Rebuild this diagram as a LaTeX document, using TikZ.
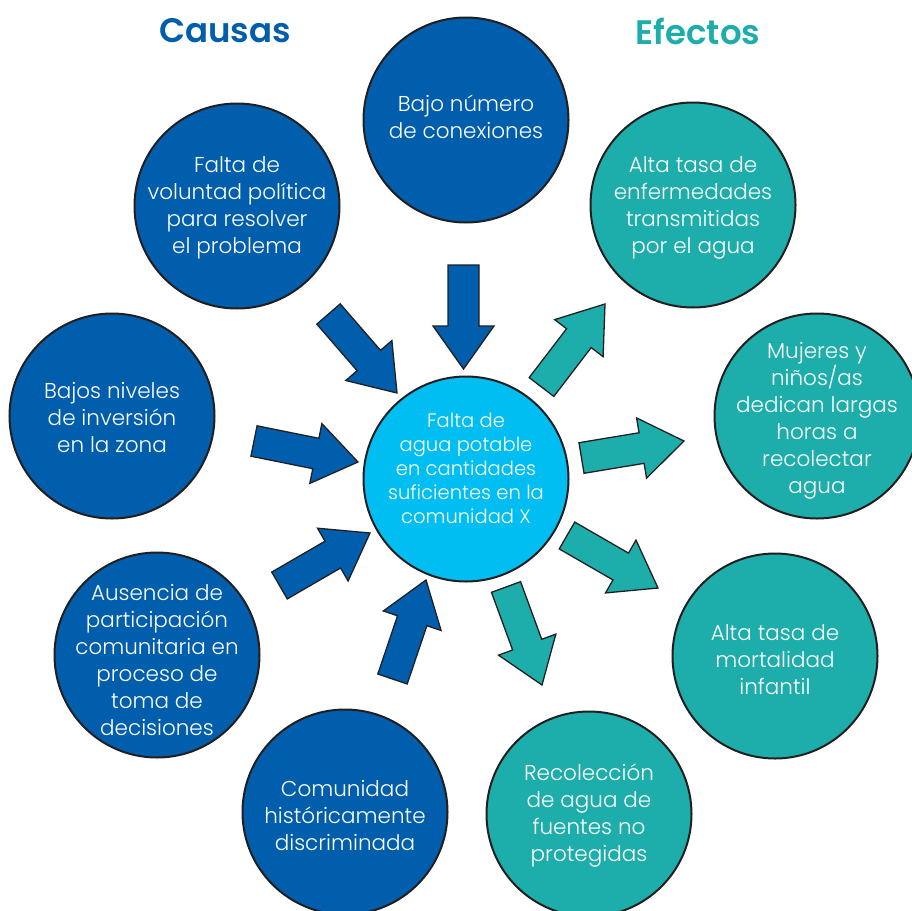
\documentclass[tikz,border=0pt]{standalone}
\usepackage{fontspec}
\IfFontExistsTF{Poppins Light}{\setmainfont{Poppins Light}[BoldFont=Poppins SemiBold]}{\setmainfont{Poppins}}
\usetikzlibrary{calc}
\definecolor{causeblue}{RGB}{0,94,172}
\definecolor{effteal}{RGB}{29,174,171}
\definecolor{centblue}{RGB}{0,190,242}
\definecolor{outlinec}{RGB}{35,31,32}
% block arrow from tail coordinate #2 to tip coordinate #3
\newcommand\blockarrow[3]{%
  \coordinate (#2b) at ($(#3)!43pt!(#2)$);
  \filldraw[#1] ($(#2)!15.5pt!90:(#3)$) -- ($(#2b)!15.5pt!90:(#3)$) -- ($(#2b)!30.5pt!90:(#3)$) -- (#3)
    -- ($(#2b)!30.5pt!-90:(#3)$) -- ($(#2b)!15.5pt!-90:(#3)$) -- ($(#2)!15.5pt!-90:(#3)$) -- cycle;
}
\begin{document}
\begin{tikzpicture}[x=1pt,y=-1pt,
  bubble/.style={circle, draw=outlinec, line width=2pt, minimum size=205pt, inner sep=0pt},
  causa/.style={bubble, fill=causeblue},
  efecto/.style={bubble, fill=effteal},
  central/.style={bubble, fill=centblue},
  txt/.style={text=white, align=center, inner sep=0pt, font=\fontsize{21.5}{27}\selectfont},
  ctxt/.style={txt, font=\fontsize{19.5}{24}\selectfont},
  causearrow/.style={draw=outlinec, line width=1.3pt, fill=causeblue, line join=miter},
  effectarrow/.style={draw=outlinec, line width=1.3pt, fill=effteal, line join=miter},
  titulo/.style={font=\fontsize{34}{40}\selectfont\bfseries}]
\useasboundingbox (0,0) rectangle (912,910);
\clip (0,0) rectangle (912,910);

\node[titulo, text=causeblue] (tcausas) at (225,31) {Causas};
\node[titulo, text=effteal] (tefectos) at (698,31) {Efectos};

\node[causa] (c1) at (466,120) {};
\node[txt] (c1t) at (466,117) {Bajo número\\de conexiones};
\node[causa] (c2) at (237,206) {};
\node[txt] (c2t) at (237,208) {Falta de\\voluntad política\\para resolver\\el problema};
\node[causa] (c3) at (112,416) {};
\node[txt] (c3t) at (112,417) {Bajos niveles\\de inversión\\en la zona};
\node[causa] (c4) at (157,655) {};
\node[txt] (c4t) at (157,660) {Ausencia de\\participación\\comunitaria en\\proceso de\\toma de\\decisiones};
\node[causa] (c5) at (345,812) {};
\node[txt] (c5t) at (345,815) {Comunidad\\históricamente\\discriminada};

\node[efecto] (e1) at (693,205) {};
\node[txt] (e1t) at (693,208) {Alta tasa de\\enfermedades\\transmitidas\\por el agua};
\node[efecto] (e2) at (817,416) {};
\node[txt] (e2t) at (817,421) {Mujeres y\\niños/as\\dedican largas\\horas a\\recolectar\\agua};
\node[efecto] (e3) at (775,656) {};
\node[txt] (e3t) at (775,660) {Alta tasa de\\mortalidad\\infantil};
\node[efecto] (e4) at (589,814) {};
\node[txt] (e4t) at (589,816) {Recolección\\de agua de\\fuentes no\\protegidas};

\node[central] (cen) at (466,479) {};
\node[ctxt] (centxt) at (466,468)
  {Falta de\\agua potable\\en cantidades\\suficientes en la\\comunidad X};

% arrow end points
\coordinate (a1) at (463.5,265); \coordinate (a1p) at (463.5,369);
\coordinate (a2) at (328.5,314); \coordinate (a2p) at (397,393);
\coordinate (a3) at (254,441);   \coordinate (a3p) at (358,462);
\coordinate (a4) at (279.5,585.5); \coordinate (a4p) at (370,533);
\coordinate (a5) at (392.5,679); \coordinate (a5p) at (426,580);
\coordinate (b1) at (541.5,387); \coordinate (b1p) at (605,304);
\coordinate (b2) at (581.5,458); \coordinate (b2p) at (684,441);
\coordinate (b3) at (567,535.5); \coordinate (b3p) at (658,588);
\coordinate (b4) at (506,587);   \coordinate (b4p) at (542,685);

\blockarrow{causearrow}{a1}{a1p}
\blockarrow{causearrow}{a2}{a2p}
\blockarrow{causearrow}{a3}{a3p}
\blockarrow{causearrow}{a4}{a4p}
\blockarrow{causearrow}{a5}{a5p}
\blockarrow{effectarrow}{b1}{b1p}
\blockarrow{effectarrow}{b2}{b2p}
\blockarrow{effectarrow}{b3}{b3p}
\blockarrow{effectarrow}{b4}{b4p}
\end{tikzpicture}
\end{document}
